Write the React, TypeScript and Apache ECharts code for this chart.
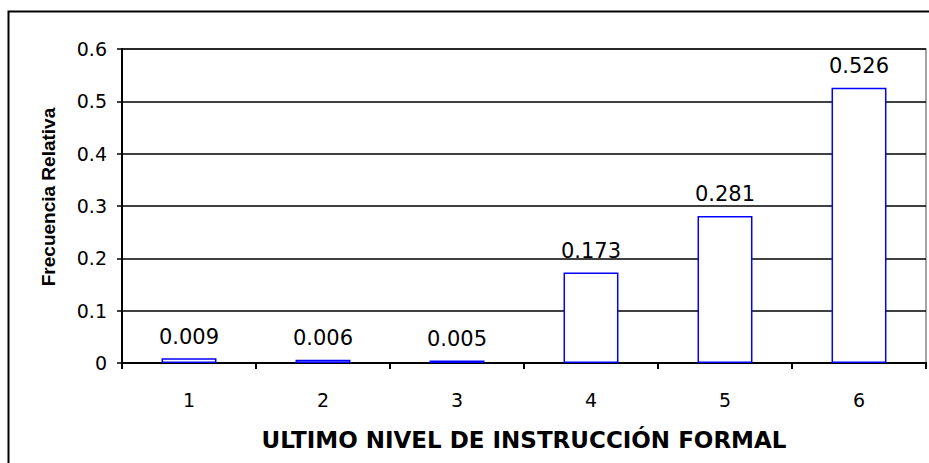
import React, { useEffect, useRef } from "react";
import * as echarts from "echarts";

const categories = ["1", "2", "3", "4", "5", "6"];
const values = [0.009, 0.006, 0.005, 0.173, 0.281, 0.526];
const valueLabels = ["0.009", "0.006", "0.005", "0.173", "0.281", "0.526"];
const yTicks = [0, 0.1, 0.2, 0.3, 0.4, 0.5, 0.6];

export default function App() {
  const ref = useRef<HTMLDivElement>(null);
  useEffect(() => {
    document.body.style.margin = "0";
    if (!ref.current) return;
    const chart = echarts.init(ref.current, undefined, { renderer: "svg" });
    chart.setOption({
      animation: false,
      backgroundColor: "#ffffff",
      grid: { left: 122, top: 49, right: 3, bottom: 100, show: true, borderColor: "#888888", borderWidth: 1.5, backgroundColor: "transparent" },
      graphic: [
        {
          type: "rect",
          shape: { x: 8.5, y: 11.5, width: 940, height: 470 },
          style: { fill: "none", stroke: "#000", lineWidth: 2 },
          z: 100,
        },
      ],
      xAxis: {
        type: "category",
        data: categories,
        axisLine: { show: true, lineStyle: { color: "#000", width: 2 } },
        axisTick: { show: true, length: 6, lineStyle: { color: "#000", width: 2 } },
        axisLabel: { fontFamily: "DejaVu Sans", fontSize: 19, color: "#000", margin: 27 },
        name: "ULTIMO NIVEL DE INSTRUCCIÓN FORMAL",
        nameLocation: "middle",
        nameGap: 65,
        nameTextStyle: { fontFamily: "DejaVu Sans", fontWeight: "bold", fontSize: 23, color: "#000" },
      },
      yAxis: {
        type: "value",
        min: 0,
        max: 0.6,
        interval: 0.1,
        axisLine: { show: true, lineStyle: { color: "#000", width: 2 } },
        axisTick: { show: true, length: 5, lineStyle: { color: "#000", width: 1.5 } },
        splitLine: { show: true, lineStyle: { color: "#000", width: 1.5 } },
        axisLabel: {
          fontFamily: "DejaVu Sans",
          fontSize: 19,
          color: "#000",
          margin: 15,
          formatter: (v: number) => {
            const t = yTicks.find((y) => Math.abs(y - v) < 1e-9);
            return t === 0 ? "0" : String(Math.round(v * 10) / 10);
          },
        },
        name: "Frecuencia Relativa",
        nameLocation: "middle",
        nameGap: 64,
        nameTextStyle: { fontFamily: "Liberation Sans", fontWeight: "bold", fontSize: 19, color: "#000", padding: [0, 0, 0, 18] },
      },
      series: [
        {
          type: "bar",
          data: values,
          barWidth: "41%",
          itemStyle: { color: "#ffffff", borderColor: "#0000ff", borderWidth: 1.5 },
          label: {
            show: true,
            position: "top",
            distance: 11,
            fontFamily: "DejaVu Sans",
            fontSize: 21,
            color: "#000",
            formatter: (p: any) => valueLabels[p.dataIndex],
          },
        },
      ],
    });
    return () => chart.dispose();
  }, []);
  return <div ref={ref} style={{ width: 929, height: 463 }} />;
}
